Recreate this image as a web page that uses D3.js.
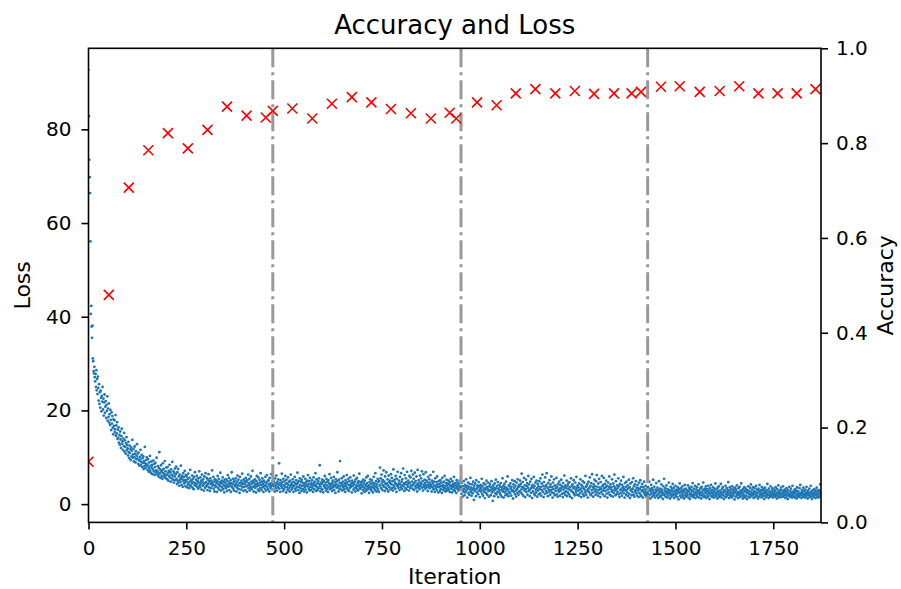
<!DOCTYPE html>
<html>
<head>
<meta charset="utf-8">
<script src="https://cdn.jsdelivr.net/npm/d3@7"></script>
<style>
body { margin: 0; background: #fff; }
svg text { font-family: "DejaVu Sans", sans-serif; fill: #000; }
</style>
</head>
<body>
<svg id="chart" width="901" height="589"></svg>
<script>
const lossEpoch1 = [
92.7,82.8,73.5,69.8,66.4,56.1,40.6,42.3,37.9,35.5,38.1,31.1,30.5,28.4,27.9,29.3,27.1,26.2,27.8,25.0,28.6,24.3,26.7,23.5,27.2,
24.8,22.1,25.6,21.4,23.9,20.6,24.2,22.7,19.8,23.1,21.9,25.0,20.2,22.5,18.9,21.7,23.4,19.5,20.8,22.0,18.4,21.2,19.9,23.0,17.8,
20.4,18.6,21.5,17.4,19.2,16.9,20.1,18.0,15.8,19.6,17.2,18.8,16.3,14.9,18.1,16.7,17.9,15.4,16.0,19.0,14.6,16.8,15.1,17.5,13.9,
15.9,14.2,16.4,13.1,14.8,12.7,15.5,13.8,12.0,14.5,16.1,12.9,13.4,11.6,14.0,12.4,15.2,11.2,13.6,12.2,10.8,13.0,14.3,11.5,12.6,
11.9,10.4,13.3,11.1,9.8,12.5,10.9,11.7,9.4,12.1,10.2,11.4,13.7,9.9,10.6,11.8,9.1,10.0,12.3,10.7,8.9,11.3,9.6,10.3,12.8,
9.7,10.8,8.6,11.0,9.3,8.2,10.1,9.5,11.6,8.4,9.0,10.5,7.9,9.8,8.8,10.2,7.5,9.2,8.1,12.2,8.7,7.7,9.4,8.3,10.0,
8.5,7.3,9.6,8.0,6.9,8.9,7.6,10.3,7.1,8.2,6.6,9.1,7.8,8.4,6.4,7.4,9.3,7.0,8.6,6.2,7.9,8.8,6.7,7.2,9.9,
7.1,6.3,8.1,6.8,5.9,7.7,11.1,6.5,7.4,5.6,8.3,6.9,6.0,7.2,5.4,8.7,6.6,7.5,5.8,6.4,9.2,6.1,7.0,5.5,7.8,
6.2,5.3,7.9,6.6,5.0,7.1,6.0,8.4,5.7,6.8,4.8,7.4,6.3,5.5,9.0,6.1,5.2,7.0,4.6,6.7,5.9,7.6,5.1,6.4,8.0,
5.4,4.3,6.8,5.0,7.5,4.6,5.9,3.9,6.3,5.2,4.7,8.2,5.6,4.1,6.0,5.3,3.7,6.6,4.9,5.8,4.4,7.1,5.1,3.8,6.2,
4.8,5.9,3.6,5.3,4.2,6.5,4.6,3.4,5.6,4.0,7.3,4.9,3.8,5.1,4.4,6.1,3.5,5.4,4.7,3.2,5.8,4.1,6.8,4.5,3.9,
5.2,4.3,6.0,3.7,4.9,3.3,5.5,4.6,7.0,4.0,3.6,5.7,4.4,5.0,3.1,6.3,4.8,3.9,5.3,4.2,2.9,5.9,4.5,3.5,6.6,
4.7,3.8,5.6,4.1,3.0,5.2,4.4,6.4,3.6,4.9,2.8,5.5,4.3,3.4,5.0,4.6,7.2,3.9,4.2,5.8,3.3,4.8,2.7,5.3,4.0,
3.7,5.1,4.5,2.6,4.9,6.0,3.5,4.2,5.4,3.1,4.7,3.9,6.7,4.4,2.9,5.0,3.6,4.6,5.7,3.2,4.1,4.8,2.5,5.2,3.8,
4.5,3.4,5.3,4.0,2.8,4.9,6.2,3.7,4.3,5.6,3.0,4.6,3.9,5.1,2.6,4.4,6.8,3.6,4.2,5.4,3.3,4.7,2.9,5.0,4.1,
3.8,5.5,4.3,2.7,4.8,3.5,6.1,4.0,5.2,3.2,4.5,2.4,5.8,3.9,4.6,3.1,5.0,4.2,6.5,3.6,4.4,2.8,5.3,3.7,4.9,
4.3,3.0,5.6,3.8,4.7,2.6,5.1,4.0,6.3,3.4,4.5,5.4,2.9,4.1,3.6,5.9,4.8,3.2,4.4,7.1,3.7,5.0,2.7,4.6,3.9,
5.3,3.5,4.2,2.5,4.9,6.0,3.8,4.4,3.1,5.7,4.0,2.8,5.2,4.6,3.4,6.6,4.1,3.0,4.8,5.5,3.6,4.3,2.6,5.0,3.9,
4.7,3.3,5.8,4.0,2.9,4.5,6.2,3.7,4.9,3.2,5.1,4.2,2.7,5.6,3.8,4.4,3.5,6.4,4.0,3.1,4.8
];
const lossEpoch2 = [
4.2,3.1,5.0,3.8,4.6,2.7,5.5,4.0,3.4,6.1,4.4,2.9,4.8,3.6,5.3,4.1,8.7,3.3,4.5,2.6,5.1,3.9,4.3,6.5,3.5,
4.7,2.8,5.4,4.0,3.2,4.9,3.7,6.0,4.3,2.5,5.2,3.6,4.5,3.0,5.7,4.1,3.4,4.8,2.7,5.0,3.8,6.3,4.2,3.1,4.6,
3.5,5.3,4.0,2.6,4.7,3.9,5.8,3.3,4.4,2.9,5.1,4.2,3.6,6.7,4.5,3.0,4.9,3.7,2.4,5.5,4.1,3.4,4.8,2.8,5.2,
3.9,4.6,3.2,5.9,4.0,2.7,4.4,3.6,5.4,3.1,4.7,4.1,2.5,5.0,3.8,6.2,4.3,3.3,4.9,2.9,5.6,3.7,4.2,3.0,4.5,
5.1,3.5,4.0,2.6,5.7,4.4,3.2,4.8,3.9,6.6,4.1,2.8,5.3,3.6,4.5,3.0,4.9,3.4,5.5,4.2,8.3,3.8,2.7,4.6,3.3,
4.3,5.2,3.1,4.7,2.5,5.0,3.8,4.1,6.0,3.5,4.6,2.9,5.4,4.0,3.3,4.8,2.6,5.1,3.7,4.4,6.4,3.2,4.2,3.9,5.6,
3.4,4.5,2.8,5.0,3.6,4.1,5.8,3.0,4.7,3.9,2.4,5.3,4.3,3.5,4.9,6.8,3.7,4.0,2.7,5.2,3.3,4.6,9.2,3.8,4.4,
3.1,5.5,4.2,2.9,4.8,3.6,5.9,4.0,3.2,4.5,2.6,5.1,3.8,4.3,6.2,3.4,4.7,3.0,5.4,4.1,2.8,4.9,3.5,5.7,4.0,
3.7,4.4,2.5,5.0,3.9,4.6,3.1,6.1,4.2,3.4,4.8,2.7,5.3,3.6,4.0,5.6,3.2,4.5,2.9,4.9,3.8,6.5,4.1,3.3,4.7,
3.5,4.2,2.3,4.8,3.9,3.0,5.2,3.6,4.4,2.6,5.0,3.3,4.1,2.8,5.7,3.8,4.5,3.1,6.0,3.4,4.0,2.4,4.7,3.7,5.3,
3.2,4.3,2.9,5.1,3.6,4.6,2.5,4.0,5.8,3.4,4.4,3.0,6.6,3.8,4.9,2.7,4.2,3.5,5.4,3.1,4.7,2.6,5.0,3.9,7.8,
4.1,5.5,3.4,6.3,4.6,3.0,5.1,4.0,7.2,3.7,4.8,2.8,5.9,4.3,3.5,6.8,4.4,3.2,5.3,4.0,2.7,6.1,4.7,3.6,5.0,
4.5,3.1,6.4,4.2,5.6,3.4,4.9,2.9,7.4,4.0,3.7,5.2,4.6,3.3,6.0,4.3,2.6,5.4,3.9,6.9,4.1,3.5,5.0,4.4,3.0,
5.8,4.2,3.6,6.6,4.8,3.2,5.3,4.0,7.6,3.8,4.5,2.8,6.2,4.3,3.4,5.5,4.7,3.1,6.9,4.1,3.7,5.0,4.4,2.9,6.0,
4.6,3.5,5.7,4.0,7.1,3.9,4.8,3.3,6.3,4.2,5.4,3.0,4.5,6.7,3.8,4.9,3.4,5.9,4.1,2.7,7.3,4.4,3.6,5.1,4.0,
3.2,6.1,4.6,3.8,5.5,4.3,7.0,3.5,4.9,2.9,6.4,4.1,3.7,5.2,4.5,3.3,6.8,4.0,5.0,3.6,4.7,2.8,5.8,4.2,3.9,
5.3,3.4,4.6,6.2,3.8,4.1,2.7,5.0,3.6,4.4,6.9,3.2,4.8,3.9,2.6,5.5,4.0,3.5,4.7,3.0,5.9,4.2,3.7,2.5,4.9,
3.6,4.3,2.8,5.1,3.9,3.2,4.6,2.4,5.6,3.7,4.1,3.0,4.8,3.4,6.0,3.8,2.7,4.5,3.3,5.2,4.0,2.9,4.4,3.5,5.0,
3.1,4.2,2.6,4.7,3.8,5.4,3.3,4.0,2.5,4.9,3.6,4.3,3.0,5.8,3.9,2.8,4.5,3.4,4.1,2.4,5.1,3.7,4.6,3.2,4.0,
2.9,4.4,3.5,5.0,3.1,3.8
];
const lossEpoch3 = [
3.4,2.2,4.5,3.0,1.6,3.8,2.7,4.9,3.2,1.9,4.1,2.5,3.6,5.3,2.9,3.9,1.4,3.3,4.6,2.4,3.7,2.0,4.3,3.1,5.6,
2.6,3.5,1.8,4.2,3.0,2.3,4.8,3.4,0.9,3.9,2.8,4.4,3.1,1.7,5.1,3.3,2.5,4.0,3.6,2.1,4.7,2.9,3.8,1.5,3.2,
4.1,2.7,3.5,5.4,2.2,3.9,1.8,3.0,4.5,2.6,3.4,1.3,4.2,3.1,2.4,5.0,3.7,2.0,3.3,4.6,2.8,1.6,3.8,2.9,4.3,
3.0,1.9,3.6,4.9,2.5,3.2,0.7,4.0,2.8,3.5,1.7,4.4,3.1,2.3,5.2,3.4,2.1,3.9,2.6,4.7,1.5,3.3,2.9,4.1,2.4,
3.7,2.0,4.5,3.0,1.6,3.5,5.5,2.7,3.9,1.4,3.2,4.3,2.5,3.6,1.9,4.8,2.9,3.4,2.2,5.9,3.1,1.7,4.0,2.6,3.8,
2.3,4.4,3.3,1.8,3.7,2.8,5.1,3.0,1.2,4.2,2.6,3.5,4.9,2.1,3.9,2.9,1.6,4.6,3.2,2.4,5.3,3.6,2.0,4.1,2.7,
3.8,5.0,2.5,4.3,3.1,6.5,2.2,3.6,4.7,1.8,3.4,5.6,2.9,4.0,1.5,3.2,5.2,2.6,3.9,4.5,2.0,3.5,6.0,2.8,4.2,
3.0,1.7,4.8,3.3,2.4,5.4,3.7,1.3,4.1,2.7,3.5,5.8,2.2,3.9,1.9,4.6,3.1,2.5,5.0,3.4,1.6,4.3,2.9,3.8,2.1,
4.9,3.2,2.3,5.5,3.6,1.8,4.4,3.0,6.3,2.6,3.9,1.5,4.7,3.3,2.2,5.7,3.8,2.8,4.1,6.6,2.4,3.5,1.7,4.5,3.1,
2.7,5.1,3.7,2.0,4.2,3.0,5.9,2.5,3.6,1.4,4.6,3.2,2.3,5.3,3.9,1.9,4.0,2.8,3.4,5.6,2.1,3.7,1.6,4.3,3.0,
2.6,4.8,3.3,1.8,4.1,2.9,5.2,3.5,2.2,3.8,1.5,4.5,3.1,2.4,6.1,3.6,2.0,4.0,2.7,3.4,5.0,1.7,3.9,2.5,4.4,
3.2,2.1,4.7,3.6,1.6,3.0,5.5,2.8,3.9,1.3,4.2,2.5,3.4,5.1,2.2,3.7,1.9,4.6,3.1,2.6,5.8,3.5,2.0,4.0,2.9,
3.6,1.8,4.4,3.0,2.3,5.3,3.3,1.5,4.1,2.7,3.8,4.9,2.1,3.4,1.7,4.6,3.1,2.5,6.0,3.7,2.0,3.9,2.8,4.3,1.4,
3.2,4.8,2.6,3.5,5.7,2.2,3.9,1.9,4.5,3.0,6.4,2.4,3.6,1.6,4.2,3.3,5.2,2.7,3.8,2.0,4.9,3.1,6.2,2.5,3.7,
1.8,4.4,3.0,5.4,2.3,3.5,1.5,4.7,3.2,2.6,6.0,3.8,2.1,4.1,2.9,5.6,3.4,1.7,4.3,2.8,3.6,5.0,2.2,3.9,1.4,
3.1,4.6,2.5,3.7,5.9,2.0,3.3,4.2,1.8,3.6,2.7,5.3,3.0,1.6,4.4,2.4,3.8,6.3,2.9,3.4,1.9,4.9,3.1,2.2,4.0,
2.6,3.5,5.5,2.1,3.9,1.5,4.3,3.0,2.4,5.0,3.3,1.8,4.1,2.8,3.6,5.8,2.3,3.2,1.4,4.5,2.9,3.7,2.0,4.8,3.1,
2.5,4.0,1.7,3.4,5.2,2.2,3.6,1.3,4.4,2.9,3.1,1.9,4.7,2.6,3.3,5.5,2.0,3.8,1.6,4.2,2.7,3.0,4.9,2.3,3.5,
1.8,4.1,2.9,3.4,1.5,4.6,2.4,3.2,5.1,2.0,3.7,1.7,2.8,4.3,3.0,1.4,3.6,2.5,4.8,2.2,3.1,1.9,3.9,2.6,1.6,
3.3,2.1
];
const lossEpoch4 = [
2.4,3.6,1.5,2.9,4.8,2.0,3.2,1.2,2.7,4.1,2.2,3.4,1.6,3.0,5.2,2.5,1.9,3.7,2.3,1.4,3.1,2.6,4.5,1.8,2.8,
3.5,2.1,1.3,3.0,4.9,2.4,1.7,3.3,2.7,1.5,4.2,2.0,3.1,2.5,1.1,3.8,2.3,5.4,1.9,2.9,3.4,1.6,2.6,4.0,2.2,
1.4,3.2,2.7,1.8,4.6,2.3,3.0,1.2,2.5,3.7,2.0,1.6,3.3,2.8,4.3,1.9,2.4,3.5,1.3,2.9,2.1,3.9,1.7,2.6,3.1,
2.2,1.5,3.6,2.8,1.0,3.2,2.4,4.4,1.8,2.6,3.4,1.4,2.9,2.1,3.8,1.7,2.5,3.1,1.2,2.7,4.1,2.0,3.3,1.6,2.3,
3.0,1.9,2.6,4.0,1.4,2.8,3.5,2.1,1.1,3.2,2.4,1.7,3.7,2.9,2.0,4.5,1.5,2.7,3.3,1.8,2.2,3.9,1.3,2.5,3.1,
2.0,3.6,1.6,2.8,2.3,4.2,1.4,3.0,2.5,1.9,3.4,2.1,1.2,3.7,2.6,1.8,3.1,4.6,2.2,1.5,2.9,3.3,1.7,2.4,3.8,
1.3,2.7,3.2,2.0,1.6,3.9,2.4,2.9,1.1,3.4,2.2,1.8,4.1,2.6,3.0,1.5,2.3,3.6,1.9,2.8,1.4,3.3,2.5,4.4,2.0,
1.7,3.1,2.4,1.2,3.5,2.7,2.0,3.8,1.5,2.9,2.3,1.8,4.3,2.6,1.4,3.2,2.1,3.6,1.9,2.5,1.1,3.0,2.8,1.6,3.9,
2.2,1.5,3.4,2.6,1.9,3.0,4.7,2.3,1.3,2.8,3.6,2.0,1.7,3.2,2.5,1.4,3.8,2.1,2.9,1.8,3.3,2.4,1.0,3.5,2.7,
1.6,3.1,2.2,4.0,1.9,2.6,1.3,3.4,2.4,2.0,3.7,1.5,2.8,2.3,4.4,1.8,3.0,2.5,1.2,3.2,2.1,1.7,3.6,2.7,1.4,
2.9,3.3,1.8,2.4,1.1,3.0,2.6,3.8,1.6,2.2,2.8,1.4,3.5,2.0,4.2,2.5,1.7,3.1,1.9,2.3,3.6,1.3,2.7,2.1,3.4,
1.5,2.6,3.9,2.0,1.8,3.1,2.4,1.2,3.3,2.8,1.6,4.1,2.2,1.9,3.0,2.5,1.4,3.6,2.1,2.9,1.7,3.2,2.3,1.1,2.7,
3.5,1.8,2.4,1.5,3.0,2.2,4.3,1.9,2.7,1.3,3.3,2.0,2.6,1.6,3.8,2.3,1.7,2.9,2.1,3.4,1.4,2.5,1.9,3.1,2.2,
1.6,2.8,3.6,1.9,2.3,1.2,3.2,2.5,1.7,4.0,2.1,2.7,1.4,3.0,2.4,1.8,3.5,2.0,1.5,2.9,2.3,3.8,1.6,2.6,1.9,
3.1,2.2,1.3,2.8,2.0,3.4,1.7,2.5,1.1,3.0,2.3,1.9,3.7,2.1,1.5,2.7,3.3,1.8,2.4,1.4,3.9,2.0,2.6,1.6,2.9,
2.2,1.4,3.2,2.5,1.8,2.9,1.2,3.6,2.1,1.7,2.7,2.3,1.5,3.4,2.0,4.1,1.9,2.4,1.3,3.0,2.6,1.6,2.2,3.5,1.8,
2.8,2.1,1.4,3.1,2.4,1.7,3.7,2.0,2.6,1.2,2.9,2.3,1.9,3.3,1.5,2.5,2.0,3.9,1.6,2.7,1.1,2.2,3.0,1.8,2.4,
1.5,3.2,2.1,2.6,1.3,2.9,1.9,3.5,2.3,1.7,2.8,1.4,2.2,3.0,1.6,2.5,4.2,1.9,2.4
];

// test accuracy (right axis): iteration and value
const accIter = [0, 52, 103, 153, 203, 254, 304, 354, 404, 453, 471, 521, 572, 622, 673, 723, 773, 824, 875, 923,
    940, 993, 1043, 1092, 1142, 1193, 1243, 1292, 1343, 1388, 1412, 1463, 1511, 1562, 1613, 1663, 1712, 1761, 1810, 1858];
const accValues = [0.128, 0.480, 0.706, 0.785, 0.821, 0.789, 0.828, 0.877, 0.858, 0.854, 0.868, 0.873, 0.852, 0.883, 0.897, 0.886, 0.872, 0.863, 0.852, 0.864,
    0.852, 0.886, 0.880, 0.905, 0.914, 0.905, 0.910, 0.904, 0.905, 0.905, 0.908, 0.919, 0.920, 0.908, 0.910, 0.920, 0.905, 0.905, 0.905, 0.914];

// epoch boundaries (dash-dot lines)
const epochLines = [471, 952, 1429];

const xTicks = [0, 250, 500, 750, 1000, 1250, 1500, 1750];
const lossTicks = [0, 20, 40, 60, 80];
const accTicks = [0, 0.2, 0.4, 0.6, 0.8, 1.0];

const loss = lossEpoch1.concat(lossEpoch2, lossEpoch3, lossEpoch4);

const margin = {top: 48.3, right: 80, bottom: 66.6, left: 88.5};
const width = 901 - margin.left - margin.right;
const height = 589 - margin.top - margin.bottom;

const svg = d3.select("#chart");
const g = svg.append("g").attr("transform", `translate(${margin.left},${margin.top})`);

g.append("clipPath").attr("id", "plotclip")
    .append("rect").attr("width", width).attr("height", height);

const x = d3.scaleLinear()
    .domain([0, loss.length - 1])
    .range([0, width]);

// same 5% padding matplotlib puts on autoscaled data
const ext = d3.extent(loss);
const pad = (ext[1] - ext[0]) * 0.05;
const yLoss = d3.scaleLinear()
    .domain([ext[0] - pad, ext[1] + pad])
    .range([height, 0]);

const yAcc = d3.scaleLinear()
    .domain([0, 1])
    .range([height, 0]);

const plot = g.append("g").attr("clip-path", "url(#plotclip)");

plot.selectAll("circle.loss")
    .data(loss)
    .enter()
    .append("circle")
        .attr("class", "loss")
        .attr("cx", (d, i) => x(i))
        .attr("cy", d => yLoss(d))
        .attr("r", 1.4)
        .attr("fill", "#1f77b4");

plot.selectAll("line.epoch")
    .data(epochLines)
    .enter()
    .append("line")
        .attr("class", "epoch")
        .attr("x1", d => x(d))
        .attr("x2", d => x(d))
        .attr("y1", 0)
        .attr("y2", height)
        .attr("stroke", "#999")
        .attr("stroke-width", 3)
        .attr("stroke-dasharray", "19,5,3,5");

plot.selectAll("path.acc")
    .data(accIter)
    .enter()
    .append("path")
        .attr("class", "acc")
        .attr("transform", (d, i) => `translate(${x(d)},${yAcc(accValues[i])})`)
        .attr("d", "M-5,-5L5,5M-5,5L5,-5")
        .attr("stroke", "red")
        .attr("stroke-width", 1.6)
        .attr("fill", "none");

function styleAxis(sel){
    sel.select(".domain").remove();
    sel.selectAll(".tick line").attr("stroke", "#000").attr("stroke-width", 1.6);
    sel.selectAll(".tick text").attr("font-size", 20).attr("font-family", "DejaVu Sans").attr("fill", "#000");
}

g.append("g")
    .attr("transform", `translate(0,${height})`)
    .call(d3.axisBottom(x).tickValues(xTicks).tickSize(7).tickPadding(11).tickFormat(d3.format("d")))
    .call(styleAxis);

g.append("g")
    .call(d3.axisLeft(yLoss).tickValues(lossTicks).tickSize(7).tickPadding(10))
    .call(styleAxis);

g.append("g")
    .attr("transform", `translate(${width},0)`)
    .call(d3.axisRight(yAcc).tickValues(accTicks).tickSize(7).tickPadding(8).tickFormat(d3.format(".1f")))
    .call(styleAxis);

// frame
g.append("rect")
    .attr("width", width)
    .attr("height", height)
    .attr("fill", "none")
    .attr("stroke", "#000")
    .attr("stroke-width", 1.6);

svg.append("text")
    .attr("x", margin.left + width / 2)
    .attr("y", 34)
    .attr("text-anchor", "middle")
    .attr("font-size", 26)
    .text("Accuracy and Loss");

svg.append("text")
    .attr("x", margin.left + width / 2)
    .attr("y", 584)
    .attr("text-anchor", "middle")
    .attr("font-size", 22)
    .text("Iteration");

svg.append("text")
    .attr("transform", `translate(30,${margin.top + height / 2}) rotate(-90)`)
    .attr("text-anchor", "middle")
    .attr("font-size", 22)
    .text("Loss");

svg.append("text")
    .attr("transform", `translate(893,${margin.top + height / 2}) rotate(-90)`)
    .attr("text-anchor", "middle")
    .attr("font-size", 22)
    .text("Accuracy");
</script>
</body>
</html>
